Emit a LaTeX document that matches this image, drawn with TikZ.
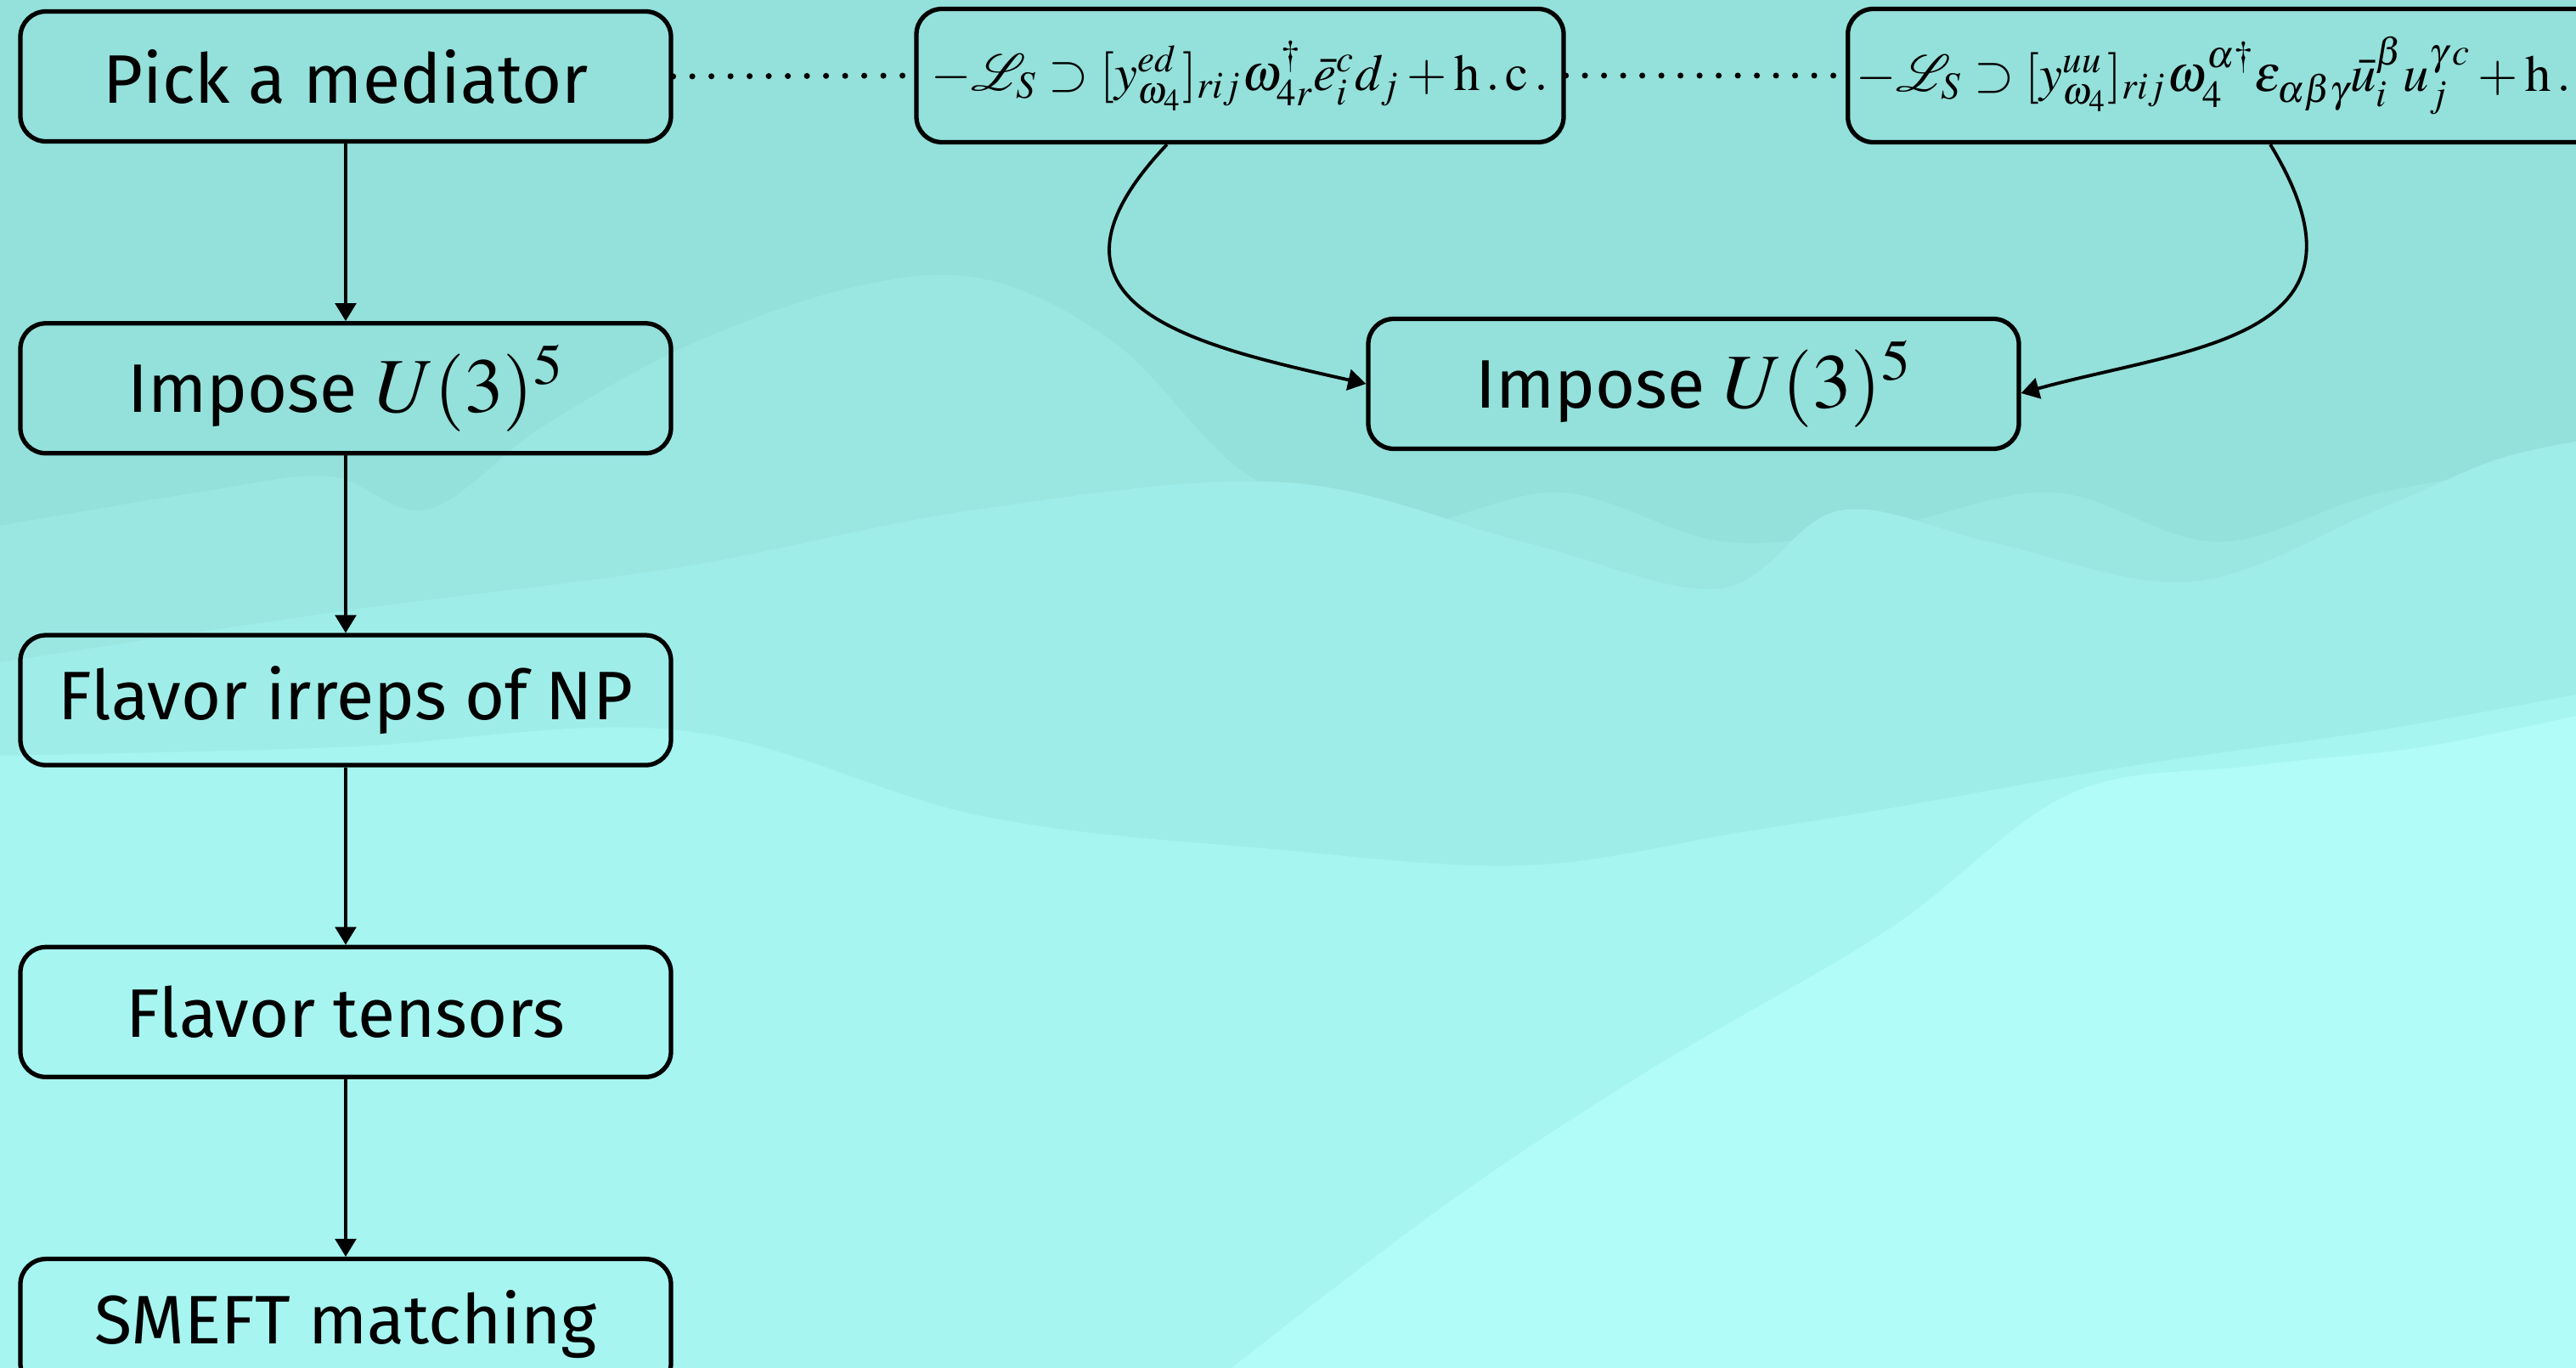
\documentclass[tikz,border=0pt]{standalone}
\usepackage{mathptmx}
\usepackage{mathrsfs}
\usepackage[no-math]{fontspec}
\setmainfont{Fira Sans}
\usepackage{xcolor}
\usetikzlibrary{arrows.meta,positioning}
\definecolor{bgtop}{RGB}{148,224,218}
\definecolor{bgone}{RGB}{154,231,226}
\definecolor{bgtwo}{RGB}{159,237,232}
\definecolor{bgthree}{RGB}{166,245,240}
\definecolor{bgfour}{RGB}{177,252,248}
\newcommand{\bigmath}[1]{{\fontsize{26}{30}\selectfont$#1$}}

\begin{document}
\begin{tikzpicture}[
  x=1cm,y=1cm,
  stepbox/.style={draw=black,line width=1.5pt,rounded corners=3mm,
    minimum width=7.66cm,minimum height=1.53cm,inner sep=0pt,align=center,
    font=\fontsize{23}{28}\selectfont},
  lagbox/.style={stepbox,minimum width=7.62cm,minimum height=1.57cm,inner xsep=1mm,
    font=\fontsize{17.3}{21}\selectfont},
  flow/.style={-{Triangle[length=6pt,width=7pt]},line width=1.1pt},
  dotlink/.style={line width=2pt,dash pattern=on 0pt off 6.4pt,line cap=round},
  node distance=2.09cm
]
\useasboundingbox (0,0) rectangle (30.33,-16.11);
\fill[bgtop] (0,0) rectangle (30.33,-16.11);
\fill[bgone] plot[smooth,tension=0.6] coordinates {(0,-6.19) (2.32,-5.80) (3.87,-5.61)
  (5.03,-6.00) (6.38,-5.03) (8.12,-4.06) (10.06,-3.38) (11.60,-3.29) (13.15,-4.06)
  (14.70,-5.60) (16.44,-6.19) (18.37,-5.80) (20.31,-6.38) (22.24,-6.19) (24.18,-5.80)
  (26.11,-6.38) (28.04,-5.80) (30.33,-5.41)} -- (30.33,-16.11) -- (0,-16.11) -- cycle;
\fill[bgtwo] plot[smooth,tension=0.6] coordinates {(0,-7.80) (4.00,-7.20) (8.00,-6.68)
  (11.50,-6.00) (15.12,-5.68) (18.00,-6.40) (20.25,-6.93) (21.67,-6.01) (23.50,-6.40)
  (25.81,-6.85) (28.00,-6.00) (29.37,-5.42) (30.33,-5.20)} -- (30.33,-16.11) -- (0,-16.11) -- cycle;
\fill[bgthree] plot[smooth,tension=0.6] coordinates {(0,-8.90) (4.00,-8.80) (8.00,-8.60)
  (11.56,-9.61) (15.00,-10.00) (17.97,-10.19) (20.50,-9.80) (22.24,-9.52) (25.09,-9.02)
  (28.00,-8.60) (30.33,-8.18)} -- (30.33,-16.11) -- (0,-16.11) -- cycle;
\fill[bgfour] plot[smooth,tension=0.6] coordinates {(14.50,-16.11) (17.00,-14.20)
  (19.39,-12.62) (22.24,-10.94) (24.37,-9.35) (26.50,-9.02) (28.50,-8.80) (30.33,-8.43)}
  -- (30.33,-16.11) -- cycle;

\node[stepbox] (pick) at (4.07,-0.90) {Pick a mediator};
\node[stepbox,below=of pick] (impose) {Impose \bigmath{U(3)^5}};
\node[stepbox,below=of impose] (irreps) {Flavor irreps of NP};
\node[stepbox,below=of irreps] (tensors) {Flavor tensors};
\node[stepbox,below=of tensors] (smeft) {SMEFT matching};
\foreach \a/\b in {pick/impose,impose/irreps,irreps/tensors,tensors/smeft}
  \draw[flow] (\a) -- (\b);

\node[lagbox] (lagone) at (14.60,-0.89)
  {$-\mathscr{L}_S\supset[y^{ed}_{\omega_4}]_{rij}\omega^{\dagger}_{4r}\bar{e}^{c}_{i}d_j+\mathrm{h\,.\,c\,.}$};
\node[lagbox,anchor=west] (lagtwo) at (21.73,-0.89)
  {$-\mathscr{L}_S\supset[y^{uu}_{\omega_4}]_{rij}\omega^{\alpha\dagger}_{4}\varepsilon_{\alpha\beta\gamma}\bar{u}^{\beta}_{i}u^{\gamma\,c}_{j}+\mathrm{h\,.\,c\,.}$};
\node[stepbox] (imposeright) at (19.94,-4.52) {Impose \bigmath{U(3)^5}};

\draw[dotlink] (pick.east) -- (lagone.west);
\draw[dotlink] (lagone.east) -- (lagtwo.west);
\draw[flow] ([xshift=-0.86cm]lagone.south) .. controls +(-1.8,-1.9) and +(-2.0,0.45) .. (imposeright.west);
\draw[flow] ([xshift=5.0cm]lagtwo.south west) .. controls +(1.4,-2.3) and +(2.0,0.55) .. ([yshift=-0.11cm]imposeright.east);
\end{tikzpicture}
\end{document}
